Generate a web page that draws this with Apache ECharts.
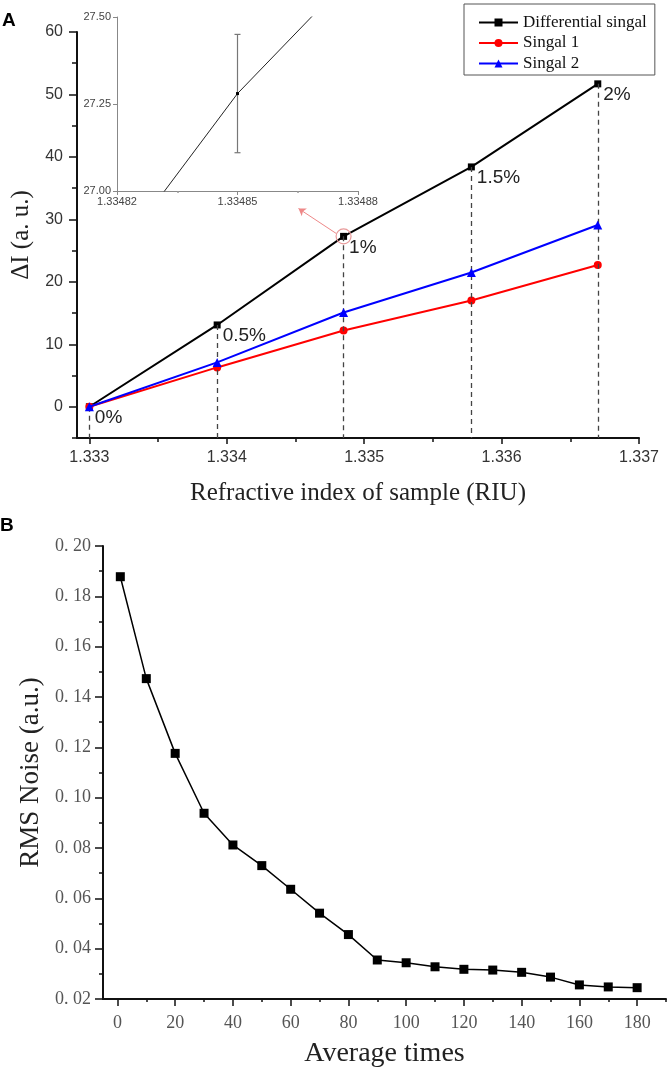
<!DOCTYPE html>
<html>
<head>
<meta charset="utf-8">
<script src="https://cdn.jsdelivr.net/npm/echarts@6/dist/echarts.min.js"></script>
<style>
  html, body { margin: 0; padding: 0; background: #fff; }
  #chart { width: 671px; height: 1070px; }
</style>
</head>
<body>
<div id="chart"></div>
<script>
// panel A: refractive index vs intensity change
var riValues = [1.333, 1.33393, 1.33485, 1.33578, 1.3367];
var diffValues = [0, 13.1, 27.28, 38.4, 51.7];
var signal1Values = [0, 6.3, 12.2, 17.0, 22.7];
var signal2Values = [0, 7.1, 15.1, 21.5, 29.1];
var concLabels = ['0%', '0.5%', '1%', '1.5%', '2%'];
var seriesNames = ['Differential singal', 'Singal 1', 'Singal 2'];

var riTicks = [1.333, 1.334, 1.335, 1.336, 1.337];
var riMinorTicks = [1.3335, 1.3345, 1.3355, 1.3365];
var diTicks = [0, 10, 20, 30, 40, 50, 60];
var diMinorTicks = [-5, 5, 15, 25, 35, 45, 55];

// inset: zoom around the 1% point, with its error bar
var insetXTicks = [1.33482, 1.33485, 1.33488];
var insetXMinorTicks = [1.334835, 1.334865];
var insetYTicks = [27.0, 27.25, 27.5];
var insetError = [0.17];
var calloutArrow = [[1.334797, 27.74], [1.334522, 31.74]];

// panel B: noise vs averaging
var avgTimes = [1, 10, 20, 30, 40, 50, 60, 70, 80, 90, 100, 110, 120, 130, 140, 150, 160, 170, 180];
var rmsNoise = [0.1878, 0.1473, 0.1176, 0.0938, 0.0812, 0.0730, 0.0636, 0.0541, 0.0456, 0.0355,
  0.0344, 0.0328, 0.0318, 0.0315, 0.0306, 0.0287, 0.0256, 0.0248, 0.0245];
var avgTicks = [0, 20, 40, 60, 80, 100, 120, 140, 160, 180];
var avgMinorTicks = [10, 30, 50, 70, 90, 110, 130, 150, 170, 190];
var noiseTicks = [0.02, 0.04, 0.06, 0.08, 0.10, 0.12, 0.14, 0.16, 0.18, 0.20];
var noiseMinorTicks = [0.03, 0.05, 0.07, 0.09, 0.11, 0.13, 0.15, 0.17, 0.19];

var SANS = 'Liberation Sans, Arial, sans-serif';
var SERIF = 'Liberation Serif, Times New Roman, serif';

function zip(xs, ys) {
  return xs.map(function (x, i) { return [x, ys[i]]; });
}

var chart = echarts.init(document.getElementById('chart'), null, { renderer: 'canvas' });

var gA = { left: 77, top: 32, width: 562, height: 406 };
var gInset = { left: 117, top: 17, width: 241, height: 174 };
var gB = { left: 103, top: 546, width: 563, height: 453 };

function majorAxis(extra) {
  var base = {
    type: 'value',
    splitLine: { show: false },
    axisLine: { show: true, onZero: false, lineStyle: { color: '#111', width: 2 } },
    axisTick: { show: true, inside: false, length: 7, lineStyle: { color: '#111', width: 1.5 } },
    axisLabel: { color: '#333', fontFamily: SANS, fontSize: 16 }
  };
  return echarts.util.merge(base, extra, true);
}

function minorAxis(gridIndex, min, max, ticks, len, color) {
  return {
    type: 'value', gridIndex: gridIndex, min: min, max: max,
    splitLine: { show: false },
    axisLine: { show: false, onZero: false },
    axisLabel: { show: false },
    axisTick: { show: true, length: len, customValues: ticks, lineStyle: { color: color || '#111', width: 1.5 } }
  };
}

var option = {
  backgroundColor: '#fff',
  animation: false,
  title: [
    { text: 'A', left: 2, top: 11, padding: 0, textStyle: { fontFamily: SANS, fontSize: 19, fontWeight: 'bold', color: '#000' } },
    { text: 'B', left: 0, top: 516, padding: 0, textStyle: { fontFamily: SANS, fontSize: 19, fontWeight: 'bold', color: '#000' } }
  ],
  legend: {
    data: seriesNames,
    orient: 'vertical',
    left: 464, top: 4,
    itemWidth: 39, itemHeight: 10, itemGap: 3.5,
    padding: [10, 8, 3, 14],
    borderColor: '#555', borderWidth: 1,
    textStyle: { fontFamily: SERIF, fontSize: 17, color: '#111' }
  },
  grid: [
    echarts.util.extend({ containLabel: false }, gA),
    echarts.util.extend({ containLabel: false }, gA),
    echarts.util.extend({ containLabel: false }, gInset),
    echarts.util.extend({ containLabel: false }, gInset),
    echarts.util.extend({ containLabel: false }, gB),
    echarts.util.extend({ containLabel: false }, gB)
  ],
  xAxis: [
    majorAxis({
      gridIndex: 0, min: 1.33291, max: 1.337,
      axisTick: { length: 6, customValues: riTicks },
      axisLabel: { customValues: riTicks, margin: 12, formatter: function (v) { return v.toFixed(3); } },
      name: 'Refractive index of sample (RIU)', nameLocation: 'middle', nameGap: 43,
      nameTextStyle: { fontFamily: SERIF, fontSize: 25, color: '#222' }
    }),
    minorAxis(1, 1.33291, 1.337, riMinorTicks, 4),
    majorAxis({
      gridIndex: 2, min: 1.33482, max: 1.33488,
      axisLine: { lineStyle: { color: '#888', width: 1 } },
      axisTick: { length: 4, customValues: insetXTicks, lineStyle: { color: '#888', width: 1 } },
      axisLabel: { customValues: insetXTicks, margin: 5, fontSize: 11, color: '#444',
        formatter: function (v) { return v.toFixed(5); } }
    }),
    minorAxis(3, 1.33482, 1.33488, insetXMinorTicks, 2, '#999'),
    majorAxis({
      gridIndex: 4, min: -5, max: 190,
      axisTick: { length: 7, customValues: avgTicks },
      axisLabel: { customValues: avgTicks, margin: 15, fontFamily: SERIF, fontSize: 18, color: '#555' },
      name: 'Average times', nameLocation: 'middle', nameGap: 41,
      nameTextStyle: { fontFamily: SERIF, fontSize: 28, color: '#222' }
    }),
    minorAxis(5, -5, 190, avgMinorTicks, 3)
  ],
  yAxis: [
    majorAxis({
      gridIndex: 0, min: -5, max: 60,
      axisTick: { length: 8, customValues: diTicks },
      axisLabel: { customValues: diTicks, margin: 14 },
      name: 'ΔI (a. u.)', nameLocation: 'middle', nameGap: 40, nameRotate: 90,
      nameTextStyle: { fontFamily: SERIF, fontSize: 25, color: '#222' }
    }),
    minorAxis(1, -5, 60, diMinorTicks, 5),
    majorAxis({
      gridIndex: 2, min: 27.0, max: 27.5,
      axisLine: { lineStyle: { color: '#888', width: 1 } },
      axisTick: { length: 4, customValues: insetYTicks, lineStyle: { color: '#888', width: 1 } },
      axisLabel: { customValues: insetYTicks, margin: 6, fontSize: 11, color: '#444',
        formatter: function (v) { return v.toFixed(2); } }
    }),
    minorAxis(3, 27.0, 27.5, [], 2),
    majorAxis({
      gridIndex: 4, min: 0.02, max: 0.20,
      axisTick: { length: 8, customValues: noiseTicks },
      axisLabel: { customValues: noiseTicks, margin: 12, fontFamily: SERIF, fontSize: 18, color: '#555',
        formatter: function (v) { return v.toFixed(2).replace('.', '. '); } },
      name: 'RMS Noise (a.u.)', nameLocation: 'middle', nameGap: 59, nameRotate: 90,
      nameTextStyle: { fontFamily: SERIF, fontSize: 27, color: '#222' }
    }),
    minorAxis(5, 0.02, 0.20, noiseMinorTicks, 4)
  ],
  series: [
    {
      name: seriesNames[0], type: 'line', xAxisIndex: 0, yAxisIndex: 0,
      data: zip(riValues, diffValues),
      symbol: 'rect', symbolSize: 7,
      lineStyle: { color: '#000', width: 2 },
      itemStyle: { color: '#000' },
      label: {
        show: true, position: 'right', distance: 2, offset: [0, 11],
        fontFamily: SANS, fontSize: 19, color: '#222',
        formatter: function (p) { return concLabels[p.dataIndex]; }
      },
      markLine: {
        silent: true, symbol: 'none', animation: false,
        label: { show: false },
        lineStyle: { color: '#444', width: 1.3, type: [5, 4] },
        data: riValues.map(function (x, i) {
          return [{ coord: [x, diffValues[i]] }, { coord: [x, -5] }];
        })
      },
      markPoint: {
        silent: true, symbol: 'circle', symbolSize: 15,
        label: { show: false },
        itemStyle: { color: 'rgba(0,0,0,0)', borderColor: '#e89a9a', borderWidth: 1.2 },
        data: [{ coord: [riValues[2], diffValues[2]] }]
      },
      z: 3
    },
    {
      name: seriesNames[1], type: 'line', xAxisIndex: 0, yAxisIndex: 0,
      data: zip(riValues, signal1Values),
      symbol: 'circle', symbolSize: 8,
      lineStyle: { color: '#ff0000', width: 2 },
      itemStyle: { color: '#ff0000' },
      markLine: {
        silent: true, symbol: ['none', 'arrow'], symbolSize: 7,
        label: { show: false },
        lineStyle: { color: '#e88', width: 1, type: 'solid' },
        data: [[{ coord: calloutArrow[0] }, { coord: calloutArrow[1] }]]
      },
      z: 4
    },
    {
      name: seriesNames[2], type: 'line', xAxisIndex: 0, yAxisIndex: 0,
      data: zip(riValues, signal2Values),
      symbol: 'triangle', symbolSize: 9,
      lineStyle: { color: '#0000ff', width: 2 },
      itemStyle: { color: '#0000ff' },
      z: 5
    },
    {
      name: 'inset', type: 'line', xAxisIndex: 2, yAxisIndex: 2,
      data: zip(riValues, diffValues),
      clip: true,
      symbol: 'rect', symbolSize: 3,
      lineStyle: { color: '#222', width: 1 },
      itemStyle: { color: '#000' },
      z: 6
    },
    {
      name: 'inset error', type: 'custom', xAxisIndex: 2, yAxisIndex: 2,
      data: [[riValues[2], diffValues[2], insetError[0]]],
      renderItem: function (params, api) {
        var x = api.value(0), y = api.value(1), e = api.value(2);
        var lo = api.coord([x, y - e]);
        var hi = api.coord([x, y + e]);
        var style = { stroke: '#777', lineWidth: 1.2 };
        return {
          type: 'group',
          children: [
            { type: 'line', shape: { x1: lo[0], y1: lo[1], x2: hi[0], y2: hi[1] }, style: style },
            { type: 'line', shape: { x1: lo[0] - 3, y1: lo[1], x2: lo[0] + 3, y2: lo[1] }, style: style },
            { type: 'line', shape: { x1: hi[0] - 3, y1: hi[1], x2: hi[0] + 3, y2: hi[1] }, style: style }
          ]
        };
      },
      z: 5
    },
    {
      name: 'RMS noise', type: 'line', xAxisIndex: 4, yAxisIndex: 4,
      data: zip(avgTimes, rmsNoise),
      symbol: 'rect', symbolSize: 9,
      lineStyle: { color: '#000', width: 1.5 },
      itemStyle: { color: '#000' }
    }
  ]
};

chart.setOption(option);
</script>
</body>
</html>
